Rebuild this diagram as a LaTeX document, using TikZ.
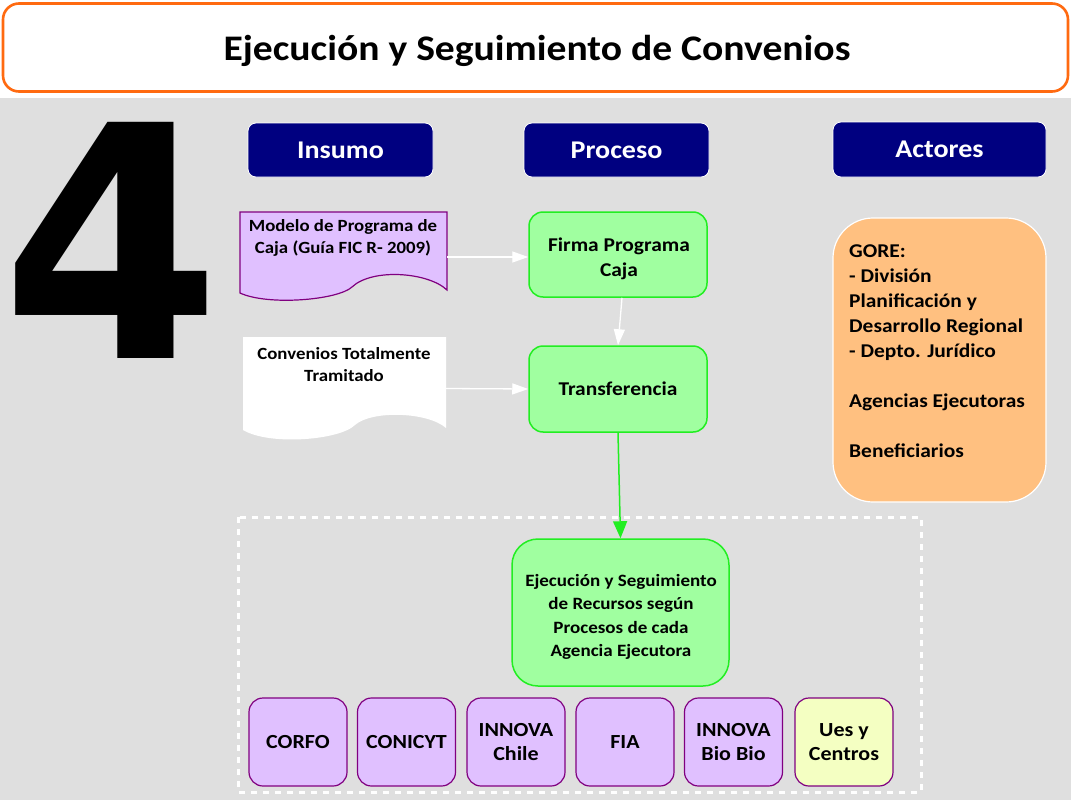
\documentclass[tikz,border=0pt]{standalone}
\usepackage{fontspec}
\setmainfont{Carlito}[FakeStretch=1.1]
\newfontfamily\digitfont{DejaVu Sans}
\usetikzlibrary{arrows.meta,calc}
\definecolor{titleorange}{HTML}{FF6A10}
\definecolor{bggrey}{HTML}{DFDFDF}
\definecolor{navyc}{HTML}{000080}
\definecolor{purf}{HTML}{E0C0FF}
\definecolor{purb}{HTML}{800080}
\definecolor{greenf}{HTML}{A0FFA0}
\definecolor{greenb}{HTML}{22EE22}
\definecolor{orangef}{HTML}{FFC080}
\definecolor{yellowf}{HTML}{F4FFC2}
\tikzset{
  hdr/.style={fill=navyc, draw=white, line width=0.8pt, rounded corners=8pt,
    text=white, font=\bfseries\fontsize{25.5}{28}\selectfont, inner sep=0pt},
  proc/.style={fill=greenf, draw=greenb, line width=1.5pt, rounded corners=14pt,
    align=center, inner sep=0pt},
  agency/.style={fill=purf, draw=purb, line width=1.2pt, rounded corners=14pt,
    minimum width=98pt, minimum height=88pt, align=center, inner sep=0pt,
    font=\bfseries\fontsize{20}{24}\selectfont},
  doctext/.style={align=center, inner sep=0pt, font=\bfseries\fontsize{17.1}{22.5}\selectfont},
  wharrow/.style={draw=white, line width=1.3pt, -{Triangle[width=11pt,length=16pt]}},
  grarrow/.style={draw=greenb, line width=1.5pt, -{Triangle[width=14pt,length=17pt]}},
}
\begin{document}
\begin{tikzpicture}[x=1pt,y=-1pt]
\useasboundingbox (0,0) rectangle (1071,800);
% background
\fill[bggrey] (0,98) rectangle (1071,800);
% title
\node[draw=titleorange, line width=2.6pt, fill=white, rounded corners=16pt,
  minimum width=1065pt, minimum height=88pt, inner sep=0pt] (title) at (535.5,47.5) {};
\node[inner sep=0pt, font=\bfseries\fontsize{36}{40}\selectfont] (titletext) at (537,51)
  {Ejecución y Seguimiento de Convenios};
% big four
\node[inner sep=0pt, anchor=base west, font=\digitfont\bfseries\fontsize{324}{324}\selectfont]
  (four) at (1,358) {\scalebox{0.975}[1]{4}};
% headers
\node[hdr, minimum width=185pt, minimum height=54pt] (insumo) at (340.5,150) {Insumo};
\node[hdr, minimum width=185pt, minimum height=54pt] (proceso) at (616.5,150) {Proceso};
\node[hdr, minimum width=213pt, minimum height=55pt] (actores) at (939.5,149.5) {Actores};
% document shapes
\fill[purf, draw=purb, line width=1.2pt]
  (240,212) -- (447,212) -- (447,290)
  .. controls (428,272) and (372,268) .. (352,287)
  .. controls (338,300) and (268,306) .. (240,293) -- cycle;
\node[minimum width=207pt, minimum height=90pt, inner sep=0pt] (doc1) at (343.5,257) {};
\node[doctext, anchor=north] (doc1t) at (343,219) {Modelo de Programa de\\Caja (Guía FIC R- 2009)};
\fill[white]
  (243,337) -- (446,337) -- (446,428)
  .. controls (428,412) and (372,410) .. (355,425)
  .. controls (340,440) and (270,446) .. (243,430) -- cycle;
\node[minimum width=203pt, minimum height=103pt, inner sep=0pt] (doc2) at (344.5,388.5) {};
\node[doctext, anchor=north] (doc2t) at (344,347) {Convenios Totalmente\\Tramitado};
% process boxes
\node[proc, minimum width=178pt, minimum height=85pt] (firma) at (618,254.5) {};
\node[inner sep=0pt, align=center, font=\bfseries\fontsize{19.5}{25}\selectfont]
  (firmat) at (619,259) {Firma Programa\\Caja};
\node[proc, minimum width=178pt, minimum height=86pt,
  font=\bfseries\fontsize{19.5}{25}\selectfont] (transfer) at (618,389) {Transferencia};
% dotted frame
\draw[white, line width=3pt, dash pattern=on 6pt off 6pt] (238,517) rectangle (921,792);
\node[proc, minimum width=217pt, minimum height=147pt, rounded corners=26pt] (ejec) at (620.5,612.5) {};
\node[inner sep=0pt, align=center, font=\bfseries\fontsize{17.3}{23.3}\selectfont]
  (eject) at (621,617) {Ejecución y Seguimiento\\de Recursos según\\Procesos de cada\\Agencia Ejecutora};
% actors box
\node[fill=orangef, draw=white, line width=1.2pt, rounded corners=40pt,
  minimum width=213pt, minimum height=284pt, inner sep=0pt] (actbox) at (939.5,360) {};
\node[anchor=north west, align=left, inner sep=0pt,
  font=\bfseries\fontsize{19.5}{25}\selectfont] (acttext) at (849,245)
  {GORE:\\- División\\Planificación y\\Desarrollo Regional\\- Depto. Jurídico\\[25pt]Agencias Ejecutoras\\[25pt]Beneficiarios};
% agencies
\node[agency] (corfo) at (298,742) {CORFO};
\node[agency] (conicyt) at (406.5,742) {CONICYT};
\node[agency] (innovach) at (516,742) {INNOVA\\Chile};
\node[agency] (fia) at (625,742) {FIA};
\node[agency] (innovabb) at (733.5,742) {INNOVA\\Bio Bio};
\node[agency, fill=yellowf] (ues) at (844,742) {Ues y\\Centros};
% arrows
\draw[wharrow] (doc1.east) -- (doc1.east -| firma.west);
\draw[wharrow] (doc2.east) -- (firma.west |- transfer.west);
\draw[wharrow] ([xshift=4pt]firma.south) -- (transfer.north);
\draw[grarrow] (transfer.south) -- (ejec.north);
\end{tikzpicture}
\end{document}
